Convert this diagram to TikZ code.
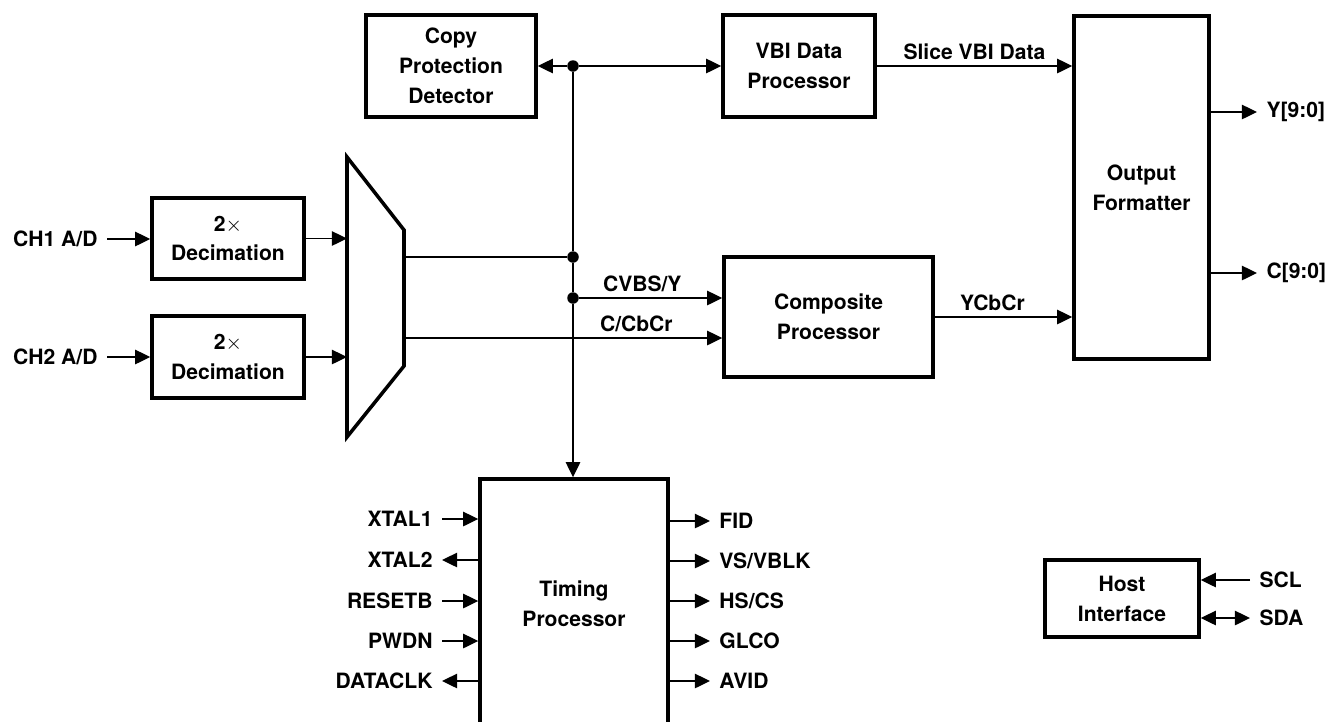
\documentclass[tikz,border=0pt]{standalone}
\usepackage{fontspec}
\setmainfont{TeX Gyre Heros}
\usetikzlibrary{%
  arrows.meta,% Triangle tips
  positioning%
}

\begin{document}
\begin{tikzpicture}[
    x=0.02cm,y=-0.02cm,
    >={Triangle[length=8.6pt,width=8.2pt]},
    line width=0.8pt,line join=miter,
    font=\fontsize{12}{17}\selectfont\bfseries,
    block/.style={rectangle,draw,line width=2pt,align=center,inner sep=0pt},
    junction/.style={circle,fill,inner sep=0pt,minimum size=2.3mm},
    sigtag/.style={inner xsep=5pt,inner ysep=1pt}
  ]
    \useasboundingbox (0,0) rectangle (1331,721);

    % blocks
    \node[block,minimum width=3.4cm,minimum height=2.04cm]  (cpd)    at (451,66)      {Copy\\Protection\\Detector};
    \node[block,minimum width=3.04cm,minimum height=2.04cm] (vbi)    at (799,66)      {VBI Data\\Processor};
    \node[block,minimum width=2.7cm,minimum height=6.86cm]  (outfmt) at (1141.5,187.5) {Output\\Formatter};
    \node[block,minimum width=4.18cm,minimum height=2.4cm]  (comp)   at (828.5,317)   {Composite\\Processor};
    \node[block,minimum width=3.04cm,minimum height=1.62cm] (dec1)   at (228,238.5)   {2$\times$\\Decimation};
    \node[block,minimum width=3.04cm,minimum height=1.64cm] (dec2)   at (228,357)     {2$\times$\\Decimation};
    \node[block,minimum width=3.76cm,minimum height=5cm]    (timing) at (574,604)     {Timing\\Processor};
    \node[block,minimum width=3.08cm,minimum height=1.54cm] (host)   at (1122,598.5)  {Host\\Interface};

    % mux
    \draw[line width=2pt] (347,157) -- (404,230) -- (404,366) -- (347,437) -- cycle;
    \coordinate (muxL) at (347,0);
    \coordinate (mux out1) at (404,257);
    \coordinate (mux out2) at (404,338);

    % junctions on the video bus
    \node[junction] (jtop)  at (573,66)  {};
    \node[junction] (jy)    at (573,257) {};
    \node[junction] (jcvbs) at (573,298) {};

    % inputs
    \node[sigtag,anchor=east] (ch1) at (107,239) {CH1 A/D};
    \node[sigtag,anchor=east] (ch2) at (107,357) {CH2 A/D};
    \draw[->] (ch1) -- (ch1 -| dec1.west);
    \draw[->] (ch2) -- (ch2 -| dec2.west);
    \draw[->] (dec1) -- (dec1 -| muxL);
    \draw[->] (dec2) -- (dec2 -| muxL);

    % video paths
    \draw (mux out1) -- (jy);
    \draw (jtop) -- (jy) -- (jcvbs);
    \draw[->] (jcvbs) -- (jcvbs |- timing.north);
    \draw[->] (jtop) -- (jtop -| cpd.east);
    \draw[->] (jtop) -- (jtop -| vbi.west);
    \draw[->] (jcvbs) -- node[above,pos=0.44] {CVBS/Y} (jcvbs -| comp.west);
    \draw[->] (mux out2) -- node[above,pos=0.73] {C/CbCr} (mux out2 -| comp.west);
    \draw[->] (vbi) -- node[above] {Slice VBI Data} (vbi -| outfmt.west);
    \draw[->] (comp) -- node[above,pos=0.42] {YCbCr} (comp -| outfmt.west);

    % outputs
    \node[sigtag,anchor=west] (yout) at (1257,112) {Y[9:0]};
    \node[sigtag,anchor=west] (cout) at (1257,273) {C[9:0]};
    \draw[->] (yout -| outfmt.east) -- (yout);
    \draw[->] (cout -| outfmt.east) -- (cout);

    % timing pins
    \node[sigtag,anchor=east] (xtal1)   at (442,519) {XTAL1};
    \node[sigtag,anchor=east] (xtal2)   at (442,560) {XTAL2};
    \node[sigtag,anchor=east] (resetb)  at (442,601) {RESETB};
    \node[sigtag,anchor=east] (pwdn)    at (442,641) {PWDN};
    \node[sigtag,anchor=east] (dataclk) at (442,681) {DATACLK};
    \draw[->] (xtal1) -- (xtal1 -| timing.west);
    \draw[->] (xtal2 -| timing.west) -- (xtal2);
    \draw[->] (resetb) -- (resetb -| timing.west);
    \draw[->] (pwdn) -- (pwdn -| timing.west);
    \draw[->] (dataclk -| timing.west) -- (dataclk);

    \node[sigtag,anchor=west] (fid)  at (710,521) {FID};
    \node[sigtag,anchor=west] (vs)   at (710,561) {VS/VBLK};
    \node[sigtag,anchor=west] (hs)   at (710,601) {HS/CS};
    \node[sigtag,anchor=west] (glco) at (710,641) {GLCO};
    \node[sigtag,anchor=west] (avid) at (710,681) {AVID};
    \draw[->] (fid -| timing.east) -- (fid);
    \draw[->] (vs -| timing.east) -- (vs);
    \draw[->] (hs -| timing.east) -- (hs);
    \draw[->] (glco -| timing.east) -- (glco);
    \draw[->] (avid -| timing.east) -- (avid);

    % host bus
    \node[sigtag,anchor=west] (scl) at (1250,580) {SCL};
    \node[sigtag,anchor=west] (sda) at (1250,618) {SDA};
    \draw[->] (scl) -- (scl -| host.east);
    \draw[<->] (sda -| host.east) -- (sda);
\end{tikzpicture}
\end{document}
